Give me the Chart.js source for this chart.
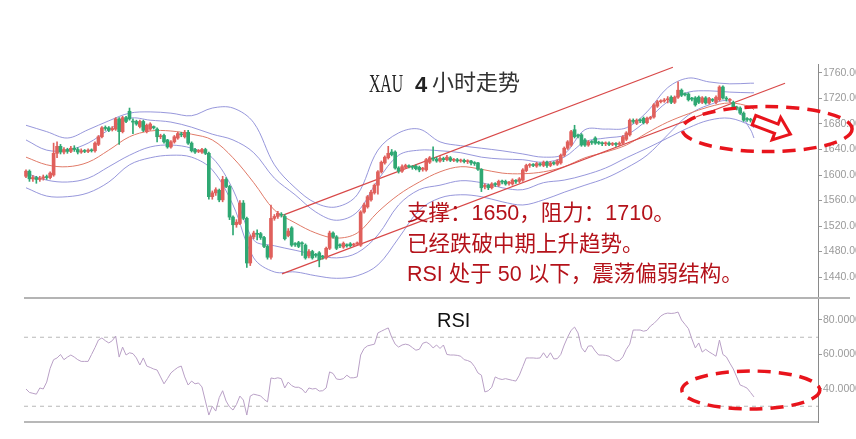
<!DOCTYPE html>
<html><head><meta charset="utf-8">
<script src="https://cdn.jsdelivr.net/npm/chart.js@4.4.1/dist/chart.umd.min.js"></script>
<style>
html,body{margin:0;padding:0;background:#fff;width:856px;height:439px;overflow:hidden}
#w1{position:absolute;left:0;top:0;width:856px;height:300px}
#w2{position:absolute;left:0;top:290px;width:856px;height:149px}
</style></head><body>
<div id="w1"><canvas id="c1"></canvas></div>
<div id="w2"><canvas id="c2"></canvas></div>
<script>
// ---------------- DATA ----------------
const opens  = [1598,1606,1594,1596,1593,1595,1597,1596,1600,1634,1645,1636,1640,1637,1642,1640,1636,1638,1637,1639,
1638,1648,1660,1674,1674,1671,1672,1688,1668,1690,1700,1684,1684,1676,1684,1668,1672,1676,1672,1660,
1662,1655,1644,1652,1658,1664,1660,1667,1650,1640,1637,1636,1640,1634,1566,1572,1576,1561,1593,1582,
1534,1522,1524,1556,1532,1462,1503,1508,1508,1502,1488,1471,1532,1535,1538,1535,1505,1517,1492,1494,
1493,1490,1473,1480,1475,1478,1472,1470,1485,1509,1503,1490,1487,1490,1492,1490,1492,1490,1542,1550,
1561,1572,1584,1605,1619,1627,1636,1636,1611,1606,1612,1614,1613,1614,1612,1609,1608,1620,1626,1625,
1622,1626,1624,1627,1623,1624,1622,1623,1621,1622,1619,1619,1609,1582,1584,1580,1586,1584,1590,1590,
1587,1586,1591,1590,1592,1607,1615,1616,1614,1617,1615,1620,1615,1619,1617,1619,1631,1642,1647,1671,
1662,1663,1655,1647,1652,1658,1651,1650,1649,1650,1648,1649,1648,1650,1656,1663,1685,1681,1686,1689,
1682,1689,1691,1708,1715,1716,1718,1722,1714,1722,1733,1727,1727,1720,1721,1722,1714,1721,1713,1718,
1714,1718,1738,1720,1717,1714,1706,1705,1697,1688,1687,1686];
const highs  = [1608,1608,1599,1598,1598,1600,1600,1605,1650,1652,1648,1643,1642,1645,1646,1643,1641,1640,1641,1641,
1652,1662,1676,1677,1676,1676,1690,1690,1692,1692,1705,1688,1686,1686,1686,1680,1682,1677,1674,1664,
1664,1656,1654,1662,1667,1667,1670,1670,1652,1642,1640,1642,1642,1636,1575,1580,1578,1598,1596,1584,
1536,1530,1560,1560,1534,1506,1512,1514,1510,1504,1490,1553,1538,1543,1541,1538,1516,1519,1494,1496,
1495,1492,1483,1482,1477,1480,1474,1487,1512,1511,1505,1492,1495,1492,1494,1493,1495,1544,1556,1568,
1576,1586,1607,1622,1630,1645,1640,1638,1613,1616,1617,1616,1615,1616,1614,1612,1626,1629,1644,1628,
1629,1628,1631,1629,1626,1626,1625,1625,1624,1623,1621,1620,1610,1586,1586,1588,1588,1592,1592,1592,
1590,1594,1593,1596,1610,1617,1618,1618,1620,1619,1622,1622,1621,1621,1624,1633,1644,1654,1670,1678,
1664,1665,1657,1654,1654,1660,1653,1652,1652,1652,1651,1651,1652,1662,1668,1688,1688,1688,1688,1691,
1691,1692,1712,1717,1718,1720,1723,1724,1724,1746,1735,1729,1729,1722,1723,1724,1723,1723,1722,1720,
1724,1740,1740,1723,1720,1716,1708,1707,1699,1690,1689,1688];
const lows   = [1596,1590,1590,1587,1590,1592,1593,1594,1598,1627,1633,1633,1634,1635,1637,1633,1634,1635,1635,1636,
1636,1646,1658,1670,1668,1669,1670,1648,1666,1682,1686,1665,1678,1674,1668,1666,1670,1672,1652,1657,
1650,1642,1642,1650,1656,1660,1658,1648,1636,1634,1635,1634,1632,1562,1562,1568,1558,1558,1580,1530,
1506,1518,1522,1530,1455,1458,1500,1498,1499,1486,1468,1468,1529,1532,1534,1498,1503,1488,1488,1486,
1474,1468,1470,1468,1471,1456,1468,1468,1483,1501,1483,1486,1485,1487,1487,1488,1490,1488,1540,1548,
1559,1570,1570,1603,1617,1625,1630,1609,1603,1604,1610,1611,1609,1608,1605,1606,1606,1618,1622,1620,
1620,1621,1622,1621,1621,1620,1620,1619,1618,1616,1615,1607,1574,1578,1577,1578,1582,1582,1586,1584,
1584,1584,1587,1588,1590,1605,1612,1613,1612,1614,1613,1612,1613,1616,1615,1617,1629,1640,1645,1658,
1658,1645,1645,1645,1648,1648,1648,1646,1646,1646,1646,1645,1646,1648,1654,1661,1681,1679,1682,1680,
1680,1687,1689,1706,1713,1714,1713,1712,1712,1720,1723,1724,1716,1716,1708,1712,1712,1711,1711,1715,
1712,1716,1719,1716,1714,1705,1702,1695,1684,1684,1683,1680];
const closes = [1606,1594,1596,1593,1595,1597,1596,1603,1634,1645,1636,1640,1637,1642,1640,1636,1638,1637,1639,1638,
1650,1660,1674,1673,1670,1673,1688,1668,1690,1684,1688,1683,1680,1684,1670,1678,1680,1674,1660,1661,
1652,1644,1652,1660,1665,1663,1667,1650,1638,1636,1638,1640,1634,1566,1572,1577,1561,1593,1582,1534,
1522,1526,1556,1532,1462,1503,1509,1507,1502,1488,1471,1532,1535,1540,1537,1500,1512,1490,1491,1488,
1492,1470,1480,1470,1474,1467,1471,1485,1509,1503,1485,1489,1493,1489,1489,1491,1493,1542,1553,1566,
1573,1584,1605,1620,1628,1634,1632,1611,1606,1613,1615,1613,1612,1610,1608,1610,1624,1627,1625,1622,
1626,1624,1628,1623,1624,1622,1623,1621,1622,1619,1618,1609,1580,1583,1580,1586,1585,1590,1589,1586,
1588,1592,1590,1594,1608,1615,1616,1615,1618,1616,1620,1615,1619,1618,1622,1631,1642,1652,1668,1660,
1661,1647,1647,1652,1651,1650,1650,1649,1650,1648,1649,1648,1650,1660,1666,1686,1684,1686,1685,1682,
1689,1690,1710,1715,1716,1717,1719,1714,1722,1733,1725,1726,1718,1719,1710,1714,1721,1713,1720,1717,
1722,1738,1721,1719,1718,1707,1705,1697,1686,1687,1686,1683];

// Bollinger bands / middle line, read at these candle positions
const bandIdx    = [0,6,12,18,24,30,36,42,48,54,60,66,72,78,84,90,96,102,108,114,120,126,132,138,144,150,156,162,168,174,180,186,192,198,204,210,211];
const bbOuterUp  = [1678,1668,1658,1671,1685,1697,1699,1697,1693,1705,1705,1682,1616,1580,1556,1550,1569,1639,1666,1672,1652,1646,1642,1638,1633,1628,1633,1671,1672,1674,1699,1737,1752,1746,1743,1744,1744];
const bbInnerUp  = [1655,1639,1639,1650,1671,1689,1686,1683,1675,1664,1655,1635,1595,1569,1542,1529,1542,1592,1631,1639,1638,1635,1628,1625,1624,1620,1628,1652,1658,1663,1686,1715,1730,1732,1730,1729,1729];
const bbMid      = [1628,1616,1613,1620,1639,1660,1669,1669,1664,1655,1627,1588,1545,1525,1509,1501,1509,1542,1569,1589,1605,1613,1609,1603,1602,1605,1613,1627,1636,1647,1666,1683,1696,1707,1713,1707,1702];
const bbInnerLow = [1603,1592,1589,1595,1613,1631,1644,1647,1642,1627,1577,1498,1489,1482,1475,1470,1478,1506,1553,1577,1584,1591,1588,1580,1577,1588,1592,1600,1611,1627,1642,1658,1674,1686,1689,1678,1674];
const bbOuterLow = [1580,1567,1566,1572,1589,1616,1627,1631,1628,1608,1553,1470,1448,1448,1442,1438,1442,1459,1501,1545,1564,1569,1566,1558,1553,1561,1573,1584,1595,1611,1631,1663,1694,1710,1715,1671,1658];

// Trend lines (two anchor points each: candle position, price)
const trendUpIdx  = [74.5, 187.5];
const trendUpVal  = [1537, 1769];
const trendLowIdx = [74.2, 220];
const trendLowVal = [1445, 1744];

// RSI per candle
const rsi = [40,38,37.5,37,40.6,40,44,52,57,58,60,57,58.5,59.7,58.5,57,56,56,56,60,
64,68.4,69.6,68,66.7,68,70.7,58.5,64.3,59.7,61,60.5,58,53.9,58,53.3,52.5,51.6,51,47,
43,46,49.3,51,52.5,53.3,47,42.3,44.6,43,43.5,41.2,33,24.9,30,27.2,35,39,33,29.6,
27.8,31,35.9,33.6,24.9,35.9,37,36.5,36,34,32.5,46.4,46,46.5,46,40.6,44,42,41,41,
40,37.7,40.6,40,40.3,38.8,39,40.6,49.9,49,45.8,45.5,46,48,46.5,46.5,47,59.7,63.5,65,
65.5,66,72.5,73.5,74.5,75.4,70,66,64.3,65.5,66,65.5,64,62.5,63,66.5,67.2,66,63.8,65.5,
63.5,65.5,60,59.7,59.7,59.5,59,57,56.5,55.6,53,49.3,48,38.3,39,41,47,46,45.5,46,
45.5,45,44.6,48,53,58,58,58,57.8,58,61,58,61,57.4,57.6,60,65.5,70.1,74,75.9,
72.5,64,61.4,64.9,65,62,59.7,59.7,59.5,59,57.5,56.2,56.5,58.6,63,66,74.2,74.2,74.2,73.5,
74,76.5,78,80,82.3,83.5,84,83.8,84,84.6,80,77.5,75,69,63.8,66.7,61.4,63,61.5,60.3,
59,68.4,60,58.6,55,51.6,47,42.3,41.5,40.5,38,35.4];
const rsiLevels = [70, 30];

const priceTicks = [1440,1480,1520,1560,1600,1640,1680,1720,1760];
const rsiTicks = [40,60,80];

// ---------------- STYLE ----------------
const UP = '#e0605c', DOWN = '#2fa873';
const BAND = 'rgba(140,140,215,0.9)', MID = '#e07a68', TREND = '#d84848';
const X_MIN = -0.58, X_MAX = 229.56;
const cIdx = opens.map((_, i) => i);
const cColors = cIdx.map(i => closes[i] >= opens[i] ? UP : DOWN);

function pts(xs, ys){ return xs.map((x,i)=>({x:x, y:ys[i]})); }
function lineDs(data, color, width, order, extra){
  return Object.assign({type:'line', data, borderColor:color, borderWidth:width, pointRadius:0,
    tension:0.35, fill:false, order}, extra||{});
}
function yAxis(min, max, ticks, dec){
  return {
    type:'linear', position:'right', min, max,
    afterBuildTicks: s => { s.ticks = ticks.map(v => ({value:v})); },
    afterFit: s => { s.width = 38; s.paddingTop = 0; s.paddingBottom = 0; },
    grid:{drawOnChartArea:false, drawTicks:true, tickLength:4, color:'#999'},
    border:{display:true, color:'#8a8a8a', width:1},
    ticks:{color:'#9a9a9a', padding:1, font:{family:'"Liberation Sans", Arial', size:10.5},
      callback: v => Number(v).toFixed(dec)}
  };
}
const xAxis = {type:'linear', min:X_MIN, max:X_MAX, display:false, offset:false};

Chart.defaults.animation = false;

// ---------------- MAIN CHART ----------------
const annotMain = {
  id:'annotMain',
  afterDraw(chart){
    const ctx = chart.ctx, xs = chart.scales.x, ys = chart.scales.y;
    ctx.save();
    // title
    ctx.fillStyle = '#222';
    ctx.textBaseline = 'alphabetic';
    ctx.font = '25px "Liberation Serif", serif';
    ctx.fillText('XAU', 369, 92, 34);
    ctx.font = 'bold 22px "Liberation Sans", Arial';
    ctx.fillText('4', 415, 92);
    ctx.fillStyle = '#333';
    ctx.font = '22px "Noto Sans CJK SC"';
    ctx.fillText('小时走势', 432, 90);
    // comment text
    ctx.fillStyle = '#b4121a';
    ctx.font = '21.5px "Liberation Sans", "Noto Sans CJK SC"';
    ctx.fillText('支撑：1650，阻力：1710。', 407, 220);
    ctx.fillText('已经跌破中期上升趋势。', 407, 251);
    ctx.fillText('RSI 处于 50 以下，震荡偏弱结构。', 407, 281);
    // dashed ellipse
    const cx = xs.getPixelForValue(214.8), cy = ys.getPixelForValue(1672);
    ctx.strokeStyle = '#e8141c'; ctx.lineWidth = 3.5; ctx.setLineDash([13,8]);
    ctx.beginPath(); ctx.ellipse(cx, cy, 85, 22.5, 0, 0, Math.PI*2); ctx.stroke();
    ctx.setLineDash([]);
    // hollow arrow
    const ax = xs.getPixelForValue(211), ay = ys.getPixelForValue(1686);
    ctx.translate(ax, ay); ctx.rotate(21*Math.PI/180);
    ctx.beginPath();
    ctx.moveTo(0,-5); ctx.lineTo(24,-5); ctx.lineTo(24,-12); ctx.lineTo(39,0);
    ctx.lineTo(24,12); ctx.lineTo(24,5); ctx.lineTo(0,5); ctx.closePath();
    ctx.fillStyle = '#fff'; ctx.fill();
    ctx.strokeStyle = '#e8141c'; ctx.lineWidth = 3; ctx.lineJoin = 'miter'; ctx.stroke();
    ctx.restore();
  }
};

new Chart(document.getElementById('c1'), {
  type:'bar',
  data:{datasets:[
    {type:'bar', data:cIdx.map(i=>({x:i, y:[opens[i], closes[i]]})), backgroundColor:cColors,
      barThickness:3, minBarLength:1, grouped:false, order:0},
    {type:'bar', data:cIdx.map(i=>({x:i, y:[lows[i], highs[i]]})), backgroundColor:cColors,
      barThickness:1, grouped:false, order:1},
    lineDs(pts(bandIdx, bbOuterUp), BAND, 1, 5),
    lineDs(pts(bandIdx, bbInnerUp), BAND, 1, 5),
    lineDs(pts(bandIdx, bbInnerLow), BAND, 1, 5),
    lineDs(pts(bandIdx, bbOuterLow), BAND, 1, 5),
    lineDs(pts(bandIdx, bbMid), MID, 1, 4),
    lineDs(pts(trendUpIdx, trendUpVal), TREND, 1.2, 3, {tension:0}),
    lineDs(pts(trendLowIdx, trendLowVal), TREND, 1.2, 3, {tension:0})
  ]},
  options:{
    responsive:true, maintainAspectRatio:false, animation:false,
    layout:{padding:{left:24, top:64, bottom:2, right:0}},
    plugins:{legend:{display:false}, tooltip:{enabled:false}},
    scales:{x:xAxis, y:yAxis(1407.1, 1774.1, priceTicks, 2)}
  },
  plugins:[annotMain]
});

// ---------------- RSI CHART ----------------
const annotRsi = {
  id:'annotRsi',
  afterDraw(chart){
    const ctx = chart.ctx, xs = chart.scales.x, ys = chart.scales.y, a = chart.chartArea;
    ctx.save();
    // panel separator lines
    ctx.strokeStyle = '#b4b4b4'; ctx.lineWidth = 2;
    ctx.beginPath(); ctx.moveTo(a.left, a.top); ctx.lineTo(850, a.top); ctx.stroke();
    ctx.strokeStyle = '#a0a0a0'; ctx.lineWidth = 1.5;
    ctx.beginPath(); ctx.moveTo(a.left, a.bottom); ctx.lineTo(a.right, a.bottom); ctx.stroke();
    // label
    ctx.fillStyle = '#111'; ctx.font = '20px "Liberation Sans", Arial'; ctx.textBaseline = 'alphabetic';
    ctx.fillText('RSI', 437, 327 - 290);
    // dashed ellipse
    const cx = xs.getPixelForValue(210.1), cy = ys.getPixelForValue(39.4);
    ctx.strokeStyle = '#e8141c'; ctx.lineWidth = 3.5; ctx.setLineDash([13,8]);
    ctx.beginPath(); ctx.ellipse(cx, cy, 69, 19, 0, 0, Math.PI*2); ctx.stroke();
    ctx.restore();
  }
};

new Chart(document.getElementById('c2'), {
  type:'line',
  data:{datasets:[
    {data:cIdx.map(i=>({x:i, y:rsi[i]})), borderColor:'#b9a0c6', borderWidth:1, pointRadius:0, tension:0, order:0},
    ...rsiLevels.map(v => ({data:[{x:X_MIN, y:v},{x:X_MAX, y:v}], borderColor:'#b8b8b8', borderWidth:1,
      borderDash:[4,4], pointRadius:0, order:1}))
  ]},
  options:{
    responsive:true, maintainAspectRatio:false, animation:false,
    layout:{padding:{left:24, top:8, bottom:17, right:0}},
    plugins:{legend:{display:false}, tooltip:{enabled:false}},
    scales:{x:xAxis, y:yAxis(20.87, 92.75, rsiTicks, 4)}
  },
  plugins:[annotRsi]
});
</script>
</body></html>
